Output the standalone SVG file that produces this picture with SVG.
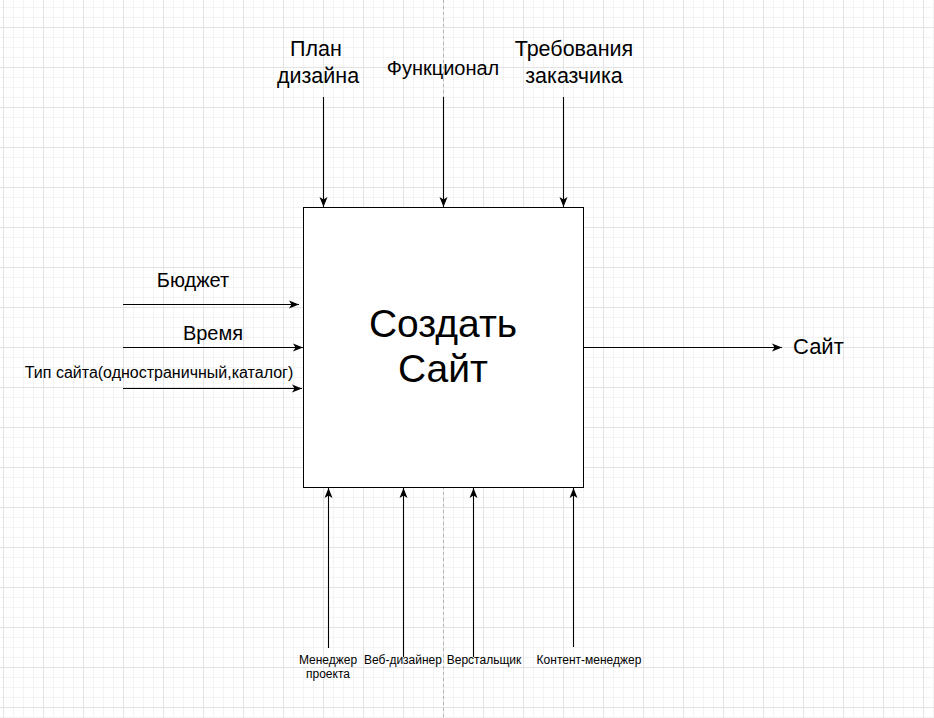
<svg xmlns="http://www.w3.org/2000/svg" width="934" height="718" viewBox="0 0 934 718">
<style>
text{font-family:"Liberation Sans",Arial,sans-serif;fill:#000}
.mid{text-anchor:middle}
.f21{font-size:21.5px}
.f20{font-size:20px}
.f22{font-size:22px}
.f16{font-size:16px}
.f12{font-size:12px}
.f39{font-size:39px}
.edge{stroke:#000;stroke-width:1.1;fill:none;marker-end:url(#arr)}
.minor{stroke:#f3f3f3;stroke-width:1}
.major{stroke:#e3e3e3;stroke-width:1}
</style>
<defs>
<pattern id="grid" patternUnits="userSpaceOnUse" x="3" y="27" width="40" height="40">
<path class="minor" d="M10.5,0V40M20.5,0V40M30.5,0V40M0,10.5H40M0,20.5H40M0,30.5H40"/>
<path class="major" d="M0.5,0V40M0,0.5H40"/>
</pattern>
<marker id="arr" markerUnits="userSpaceOnUse" markerWidth="11" markerHeight="9" refX="10" refY="4.5" orient="auto">
<path d="M0,0.5L10,4.5L0,8.5L2.5,4.5Z" fill="#000"/>
</marker>
</defs>
<rect width="934" height="718" fill="#fff"/>
<rect width="934" height="718" fill="url(#grid)"/>
<line x1="443.5" y1="0" x2="443.5" y2="718" stroke="#b4b4b4" stroke-dasharray="3,3"/>
<g id="connectors">
<path class="edge" d="M323.5,97V207"/>
<path class="edge" d="M443.5,97V207"/>
<path class="edge" d="M563.5,97V207"/>
<path class="edge" d="M123,304.5H299"/>
<path class="edge" d="M123,347.5H303"/>
<path class="edge" d="M123,388.5H302"/>
<path class="edge" d="M583,347.5H782"/>
<path class="edge" d="M328.5,648V488"/>
<path class="edge" d="M403.5,657V488"/>
<path class="edge" d="M473.5,657V488"/>
<path class="edge" d="M573.5,647V488"/>
</g>
<g id="main">
<rect x="303.5" y="207.5" width="280" height="280" fill="#fff" stroke="#000"/>
<text class="mid f39" x="443" y="337">Создать</text>
<text class="mid f39" x="443" y="382">Сайт</text>
</g>
<g id="plan"><text class="mid f21" x="316" y="56">План</text><text class="mid f21" x="318" y="83">дизайна</text></g>
<g id="func"><text class="mid f20" x="443" y="75">Функционал</text></g>
<g id="req"><text class="mid f21" x="574" y="56">Требования</text><text class="mid f21" x="574" y="83">заказчика</text></g>
<g id="budget"><text class="mid f20" x="193" y="287">Бюджет</text></g>
<g id="time"><text class="mid f20" x="213" y="340">Время</text></g>
<g id="type"><text class="mid f16" x="159" y="378">Тип сайта(одностраничный,каталог)</text></g>
<g id="site"><text class="f22" x="793" y="354">Сайт</text></g>
<g id="pm"><text class="mid f12" x="328" y="664">Менеджер</text><text class="mid f12" x="328" y="678">проекта</text></g>
<g id="web"><text class="mid f12" x="403" y="664">Веб-дизайнер</text></g>
<g id="coder"><text class="mid f12" x="484" y="664">Верстальщик</text></g>
<g id="content"><text class="mid f12" x="589" y="664">Контент-менеджер</text></g>
</svg>
